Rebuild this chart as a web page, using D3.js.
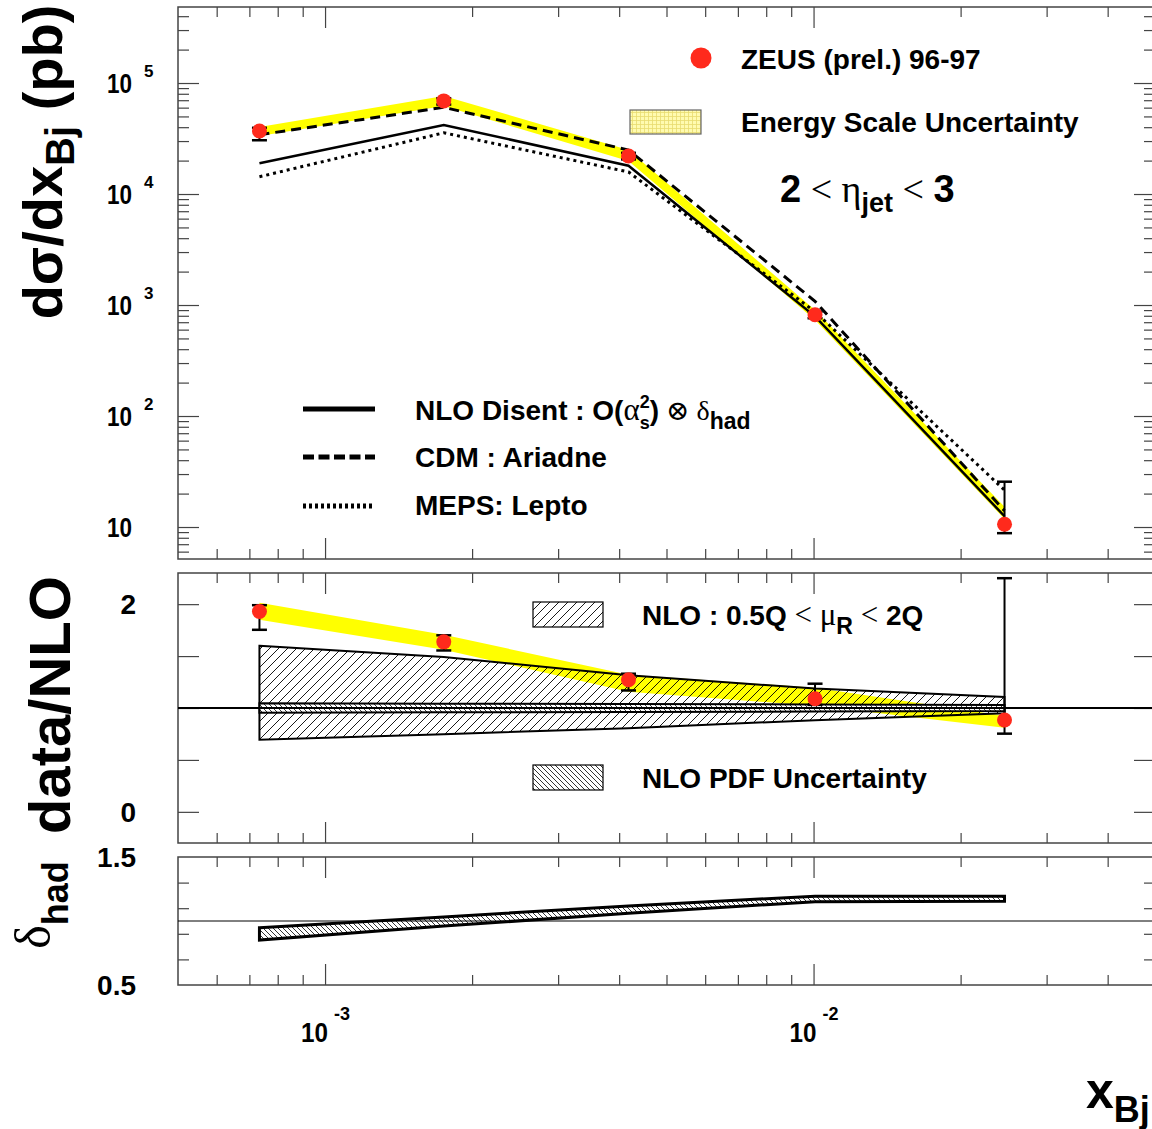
<!DOCTYPE html>
<html>
<head>
<meta charset="utf-8">
<script src="https://cdn.jsdelivr.net/npm/d3@7"></script>
<style>
  body { margin: 0; background: #fff; }
  svg { display: block; }
</style>
</head>
<body>
<div id="chart"></div>
<script>
// x_Bj bin centres
const xBj = [7.34e-4, 1.75e-3, 4.18e-3, 1.007e-2, 2.46e-2];

// top panel: dsigma/dx_Bj (pb)
const sigma = [3.70e4, 6.9e4, 2.2e4, 818, 10.6];
const sigmaLo = [3.05e4, 6.4e4, 2.05e4, 760, 8.8];
const sigmaHi = [3.95e4, 7.3e4, 2.35e4, 870, 25.6];
const escaleLo = [3.33e4, 6.21e4, 1.98e4, 733, 11.8];
const escaleHi = [4.02e4, 7.64e4, 2.49e4, 902, 15.2];
const nloDisent = [1.89e4, 4.19e4, 1.80e4, 790, 12.5];
const cdmAriadne = [3.42e4, 6.04e4, 2.49e4, 1080, 14];
const mepsLepto = [1.43e4, 3.56e4, 1.58e4, 870, 21.5];

// middle panel: data/NLO
const ratio = [1.929, 1.637, 1.272, 1.089, 0.885];
const ratioLo = [1.753, 1.554, 1.169, 1.03, 0.753];
const ratioHi = [1.99, 1.70, 1.33, 1.234, 2.25];
const ratioEsLo = [1.849, 1.561, 1.157, 1.022, 0.811];
const ratioEsHi = [2.013, 1.705, 1.320, 1.195, 0.926];
const muRLo = [0.695, 0.748, 0.806, 0.883, 0.95];
const muRHi = [1.599, 1.491, 1.315, 1.187, 1.107];
const pdfLo = [0.955, 0.958, 0.962, 0.966, 0.97];
const pdfHi = [1.045, 1.042, 1.038, 1.034, 1.03];

// bottom panel: delta_had
const hadLo = [0.851, 0.960, 1.061, 1.151, 1.155];
const hadHi = [0.947, 1.032, 1.118, 1.194, 1.194];

// ticks
const xMajor = [1e-3, 1e-2];
const xMinor = [6e-4, 7e-4, 8e-4, 9e-4, 2e-3, 3e-3, 4e-3, 5e-3, 6e-3, 7e-3, 8e-3, 9e-3, 2e-2, 3e-2, 4e-2];
const xLabels = [{v: 1e-3, exp: "-3"}, {v: 1e-2, exp: "-2"}];
const topMajor = [10, 100, 1000, 1e4, 1e5];
const topExp = ["", "2", "3", "4", "5"];
const midTicks = [0, 0.5, 1, 1.5, 2];
const midLabels = [0, 2];
const botTicks = [0.7, 0.9, 1.1, 1.3];
const botLabels = ["0.5", "1.5"];

const width = 1152, height = 1129;
const left = 178, right = 1155;
const font = "'Liberation Sans', Arial, Helvetica, sans-serif";
const greek = "'Liberation Serif', 'DejaVu Serif', serif";

const topMinor = [];
[1, 10, 100, 1000, 1e4, 1e5].forEach(d => {
    for (let k = 2; k <= 9; k++) {
        const v = d * k;
        if (v > 5.15 && v < 4.84e5) topMinor.push(v);
    }
});

const x = d3.scaleLog().domain([5e-4, 5e-2]).range([left, right]);
const yTop = d3.scaleLog().domain([5.15, 4.84e5]).range([559, 7]);
const yMid = d3.scaleLinear().domain([-0.3, 2.3]).range([843, 573]);
const yBot = d3.scaleLinear().domain([0.5, 1.5]).range([985, 857]);

const svg = d3.select("#chart").append("svg")
    .attr("width", width)
    .attr("height", height)
    .style("font-family", font);

// patterns
const defs = svg.append("defs");
const pFwd = defs.append("pattern").attr("id", "hatchFwd")
    .attr("patternUnits", "userSpaceOnUse").attr("width", 9).attr("height", 9);
pFwd.append("path").attr("d", "M-2,2 l4,-4 M0,9 l9,-9 M7,11 l4,-4")
    .attr("stroke", "#000").attr("stroke-width", 0.9);
const pBack = defs.append("pattern").attr("id", "hatchBack")
    .attr("patternUnits", "userSpaceOnUse").attr("width", 5).attr("height", 5);
pBack.append("path").attr("d", "M-1,-1 l7,7 M-1,4 l2,2 M4,-1 l2,2")
    .attr("stroke", "#000").attr("stroke-width", 0.8);
const pGrid = defs.append("pattern").attr("id", "gridYellow")
    .attr("patternUnits", "userSpaceOnUse").attr("width", 4).attr("height", 4);
pGrid.append("rect").attr("width", 4).attr("height", 4).attr("fill", "#fffbb0");
pGrid.append("path").attr("d", "M0,0.5 H4 M0.5,0 V4")
    .attr("stroke", "#e8dc70").attr("stroke-width", 0.8);

// frame + inward ticks
function frame(yScale, yMinor, yMajor, minorLen, majorLen) {
    const [y1, y0] = yScale.range();
    const g = svg.append("g");
    const put = (axis, pos, values, size) => {
        const a = g.append("g").attr("transform", pos)
            .call(axis.tickValues(values).tickSize(size).tickFormat(""));
        a.select(".domain").remove();
        a.selectAll("line").attr("stroke", "#444").attr("stroke-width", 1.2);
    };
    put(d3.axisBottom(x), `translate(0,${y0})`, xMinor, 10);
    put(d3.axisBottom(x), `translate(0,${y0})`, xMajor, 21);
    put(d3.axisTop(x), `translate(0,${y1})`, xMinor, 10);
    put(d3.axisTop(x), `translate(0,${y1})`, xMajor, 21);
    if (yMinor.length) {
        put(d3.axisRight(yScale), `translate(${left},0)`, yMinor, minorLen);
        put(d3.axisLeft(yScale), `translate(${right},0)`, yMinor, minorLen);
    }
    if (yMajor.length) {
        put(d3.axisRight(yScale), `translate(${left},0)`, yMajor, majorLen);
        put(d3.axisLeft(yScale), `translate(${right},0)`, yMajor, majorLen);
    }
    g.append("rect").attr("x", left).attr("y", y0)
        .attr("width", right - left).attr("height", y1 - y0)
        .attr("fill", "none").attr("stroke", "#444").attr("stroke-width", 1.5);
}

function errorBars(g, yScale, vals, lo, hi, capW) {
    xBj.forEach((xv, i) => {
        const cx = x(xv);
        g.append("line").attr("x1", cx).attr("x2", cx)
            .attr("y1", yScale(lo[i])).attr("y2", yScale(hi[i]))
            .attr("stroke", "#000").attr("stroke-width", 2);
        [lo[i], hi[i]].forEach(v => {
            g.append("line").attr("x1", cx - capW / 2).attr("x2", cx + capW / 2)
                .attr("y1", yScale(v)).attr("y2", yScale(v))
                .attr("stroke", "#000").attr("stroke-width", 2.5);
        });
    });
    g.selectAll("circle.pt").data(vals).enter().append("circle")
        .attr("class", "pt")
        .attr("cx", (d, i) => x(xBj[i]))
        .attr("cy", d => yScale(d))
        .attr("r", 7.5)
        .attr("fill", "#ff2a1c");
}

function band(yScale, lo, hi) {
    return d3.area()
        .x((d, i) => x(xBj[i]))
        .y0((d, i) => yScale(lo[i]))
        .y1((d, i) => yScale(hi[i]))(xBj);
}

// ---------- top panel ----------
frame(yTop, topMinor, topMajor, 11, 21);
const gTop = svg.append("g");
gTop.append("path").attr("d", band(yTop, escaleLo, escaleHi)).attr("fill", "#ffff00");

const lineTop = d3.line().x((d, i) => x(xBj[i])).y(d => yTop(d));
gTop.append("path").datum(nloDisent).attr("d", lineTop)
    .attr("fill", "none").attr("stroke", "#000").attr("stroke-width", 2.5);
gTop.append("path").datum(cdmAriadne).attr("d", lineTop)
    .attr("fill", "none").attr("stroke", "#000").attr("stroke-width", 3)
    .attr("stroke-dasharray", "10,6");
gTop.append("path").datum(mepsLepto).attr("d", lineTop)
    .attr("fill", "none").attr("stroke", "#000").attr("stroke-width", 3)
    .attr("stroke-dasharray", "3,4");
errorBars(gTop, yTop, sigma, sigmaLo, sigmaHi, 15);

// top y labels
topMajor.forEach((v, i) => {
    svg.append("text").attr("x", 107).attr("y", yTop(v) + 10)
        .attr("font-weight", "bold").attr("font-size", 28)
        .attr("textLength", 25).attr("lengthAdjust", "spacingAndGlyphs").text("10");
    if (topExp[i]) {
        svg.append("text").attr("x", 144).attr("y", yTop(v) - 6)
            .attr("font-weight", "bold").attr("font-size", 17).text(topExp[i]);
    }
});

// top legends
svg.append("circle").attr("cx", 701).attr("cy", 58).attr("r", 10.5).attr("fill", "#ff2a1c");
svg.append("text").attr("x", 741).attr("y", 69).attr("font-weight", "bold").attr("font-size", 28)
    .text("ZEUS (prel.) 96-97");
svg.append("rect").attr("x", 630).attr("y", 110).attr("width", 71).attr("height", 24)
    .attr("fill", "url(#gridYellow)").attr("stroke", "#666").attr("stroke-width", 1.2);
svg.append("text").attr("x", 741).attr("y", 132).attr("font-weight", "bold").attr("font-size", 28)
    .text("Energy Scale Uncertainty");

const eta = svg.append("text").attr("x", 780).attr("y", 202).attr("font-size", 38);
eta.append("tspan").attr("font-weight", "bold").text("2");
eta.append("tspan").attr("font-family", greek).text(" < η");
eta.append("tspan").attr("font-weight", "bold").attr("font-size", 27).attr("dy", 10).text("jet");
eta.append("tspan").attr("font-family", greek).attr("dy", -10).text(" < ");
eta.append("tspan").attr("font-weight", "bold").text("3");

const legLines = [
    {y: 409, dash: null},
    {y: 457, dash: "11,4.5"},
    {y: 506, dash: "3,3"}
];
legLines.forEach(l => {
    const ln = svg.append("line").attr("x1", 303).attr("x2", 375)
        .attr("y1", l.y).attr("y2", l.y).attr("stroke", "#000").attr("stroke-width", 5);
    if (l.dash) ln.attr("stroke-dasharray", l.dash);
});
const nloTxt = svg.append("text").attr("x", 415).attr("y", 420)
    .attr("font-weight", "bold").attr("font-size", 28);
nloTxt.append("tspan").text("NLO Disent : O(");
nloTxt.append("tspan").attr("font-family", greek).attr("font-weight", "normal").attr("font-size", 31).text("α");
nloTxt.append("tspan").attr("font-size", 18).attr("dy", -12).text("2");
nloTxt.append("tspan").attr("font-size", 18).attr("dx", -10).attr("dy", 21).text("s");
nloTxt.append("tspan").attr("dy", -9).text(")");
nloTxt.append("tspan").attr("font-family", greek).attr("font-weight", "normal").text(" ⊗ δ");
nloTxt.append("tspan").attr("font-size", 23).attr("dy", 9).text("had");
svg.append("text").attr("x", 415).attr("y", 467).attr("font-weight", "bold").attr("font-size", 28)
    .text("CDM : Ariadne");
svg.append("text").attr("x", 415).attr("y", 515).attr("font-weight", "bold").attr("font-size", 28)
    .text("MEPS: Lepto");

// ---------- middle panel ----------
frame(yMid, [], midTicks, 0, 21);
const gMid = svg.append("g");
gMid.append("path").attr("d", band(yMid, ratioEsLo, ratioEsHi)).attr("fill", "#ffff00");
gMid.append("path").attr("d", band(yMid, muRLo, muRHi) + "Z")
    .attr("fill", "url(#hatchFwd)").attr("stroke", "#000").attr("stroke-width", 2);
gMid.append("path").attr("d", band(yMid, pdfLo, pdfHi))
    .attr("fill", "#fff");
gMid.append("path").attr("d", band(yMid, pdfLo, pdfHi))
    .attr("fill", "url(#hatchBack)").attr("stroke", "#000").attr("stroke-width", 2);
gMid.append("line").attr("x1", left).attr("x2", right)
    .attr("y1", yMid(1)).attr("y2", yMid(1)).attr("stroke", "#000").attr("stroke-width", 2);
errorBars(gMid, yMid, ratio, ratioLo, ratioHi, 15);

midLabels.forEach(v => {
    svg.append("text").attr("x", 136).attr("y", yMid(v) + 10).attr("text-anchor", "end")
        .attr("font-weight", "bold").attr("font-size", 28).text(v);
});

svg.append("rect").attr("x", 533).attr("y", 602).attr("width", 70).attr("height", 25)
    .attr("fill", "url(#hatchFwd)").attr("stroke", "#000").attr("stroke-width", 1.2);
const muTxt = svg.append("text").attr("x", 642).attr("y", 625)
    .attr("font-weight", "bold").attr("font-size", 28);
muTxt.append("tspan").text("NLO : 0.5Q ");
muTxt.append("tspan").attr("font-family", greek).attr("font-weight", "normal").attr("font-size", 31).text("< μ");
muTxt.append("tspan").attr("font-size", 23).attr("dy", 9).text("R");
muTxt.append("tspan").attr("font-family", greek).attr("font-weight", "normal").attr("font-size", 31).attr("dy", -9).text(" < ");
muTxt.append("tspan").text("2Q");

svg.append("rect").attr("x", 533).attr("y", 765).attr("width", 70).attr("height", 25)
    .attr("fill", "url(#hatchBack)").attr("stroke", "#000").attr("stroke-width", 1.2);
svg.append("text").attr("x", 642).attr("y", 788).attr("font-weight", "bold").attr("font-size", 28)
    .text("NLO PDF Uncertainty");

// ---------- bottom panel ----------
frame(yBot, botTicks, [], 11, 0);
svg.append("line").attr("x1", left).attr("x2", right)
    .attr("y1", yBot(1)).attr("y2", yBot(1)).attr("stroke", "#000").attr("stroke-width", 1);
svg.append("path").attr("d", band(yBot, hadLo, hadHi) + "Z")
    .attr("fill", "url(#hatchBack)").attr("stroke", "#000").attr("stroke-width", 3);

[0.5, 1.5].forEach((v, i) => {
    svg.append("text").attr("x", 136).attr("y", yBot(v) + 10).attr("text-anchor", "end")
        .attr("font-weight", "bold").attr("font-size", 28)
        .text(botLabels[i]);
});

// x labels
xLabels.forEach(l => {
    svg.append("text").attr("x", x(l.v) - 24).attr("y", 1042)
        .attr("font-weight", "bold").attr("font-size", 28)
        .attr("textLength", 27).attr("lengthAdjust", "spacingAndGlyphs").text("10");
    svg.append("text").attr("x", x(l.v) + 9).attr("y", 1020)
        .attr("font-weight", "bold").attr("font-size", 18).text(l.exp);
});

const xt = svg.append("text").attr("x", 1086).attr("y", 1108)
    .attr("font-weight", "bold").attr("font-size", 50);
xt.append("tspan").text("x");
xt.append("tspan").attr("font-size", 36).attr("dy", 14).text("Bj");

// axis titles
const t1 = svg.append("text").attr("transform", "translate(62,162) rotate(-90)")
    .attr("text-anchor", "middle").attr("font-weight", "bold").attr("font-size", 56);
t1.append("tspan").text("dσ/dx");
t1.append("tspan").attr("font-size", 40).attr("dy", 12).text("Bj");
t1.append("tspan").attr("dy", -12).text(" (pb)");

svg.append("text").attr("transform", "translate(70,705) rotate(-90)")
    .attr("text-anchor", "middle").attr("font-weight", "bold").attr("font-size", 58)
    .text("data/NLO");

const t3 = svg.append("text").attr("transform", "translate(50,905) rotate(-90)")
    .attr("text-anchor", "middle").attr("font-size", 50);
t3.append("tspan").attr("font-family", greek).text("δ");
t3.append("tspan").attr("font-weight", "bold").attr("font-size", 36).attr("dy", 18).text("had");
</script>
</body>
</html>
